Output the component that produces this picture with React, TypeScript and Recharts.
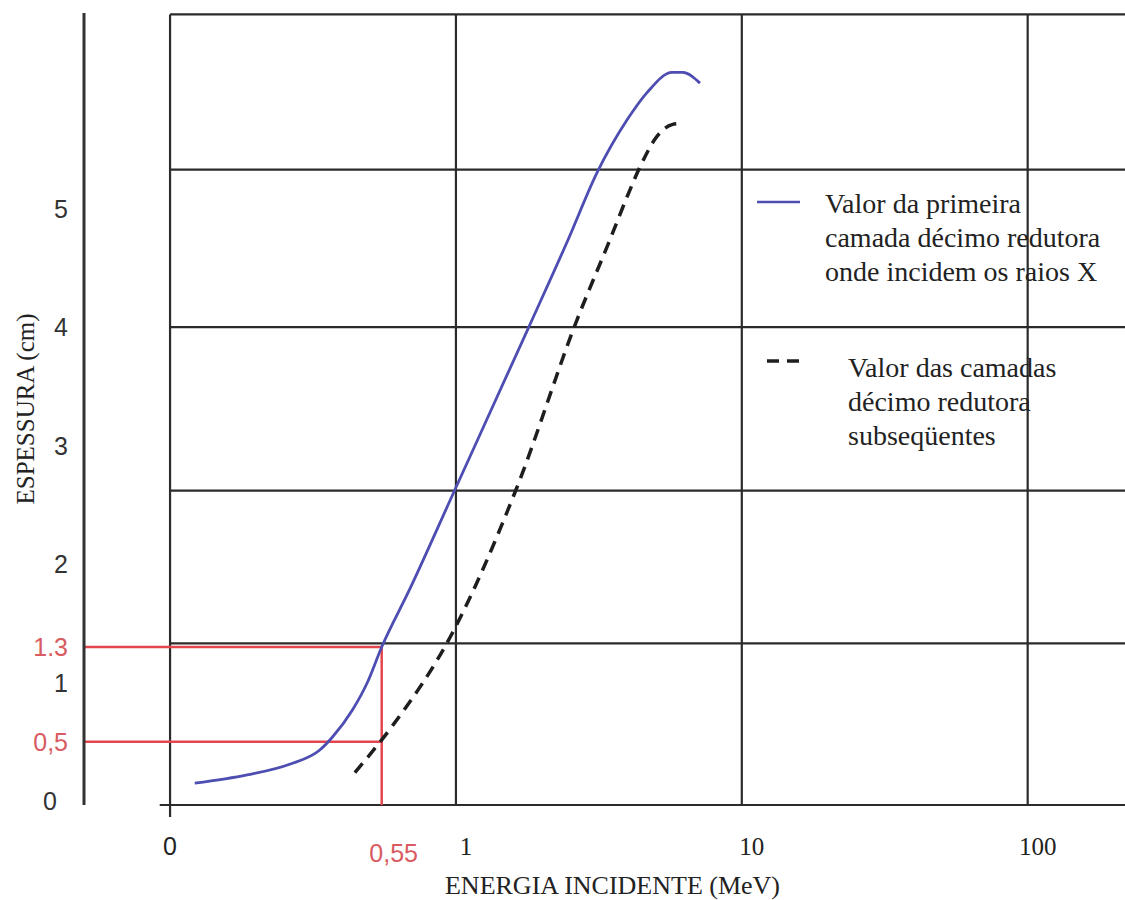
import React from 'react';
import { ComposedChart, Line, XAxis, YAxis, ReferenceLine, Legend, Label } from 'recharts';

// energia incidente (MeV) x espessura (cm)
const energiaPrimeira = [0.122, 0.186, 0.262, 0.334, 0.37, 0.435, 0.49, 0.55, 0.69, 0.98, 1.79, 2.47, 3.11, 3.97, 4.66, 5.7, 6.22, 7.14];
const espessuraPrimeira = [0.15, 0.22, 0.31, 0.43, 0.54, 0.77, 1.0, 1.3, 1.79, 2.6, 3.99, 4.74, 5.3, 5.75, 5.98, 6.15, 6.15, 6.06];

const energiaSubsequentes = [0.443, 0.602, 0.953, 1.63, 2.65, 3.46, 4.0, 4.4, 5.05, 5.7, 6.18];
const espessuraSubsequentes = [0.24, 0.64, 1.38, 2.64, 4.06, 4.74, 5.12, 5.35, 5.61, 5.71, 5.72];

const xTicks = [0.1, 0.55, 1, 10, 100];
const xTickLabels = ['0', '0,55', '1', '10', '100'];
const yTicks = [0, 0.5, 1, 1.3, 2, 3, 4, 5];
const yTickLabels = ['0', '0,5', '1', '1.3', '2', '3', '4', '5'];

// marcação em vermelho: 0,55 MeV -> 1,3 cm e 0,5 cm
const destaqueX = [0.55];
const destaqueY = [0.5, 1.3];

// grade desenhada (não coincide com as marcas do eixo y)
const gradeX = [0.1, 1, 10, 100];
const gradeY = [1.33, 2.62, 4.0, 5.33, 6.64];

const X_DOMAIN = [0.05, 219];
const Y_DOMAIN = [-0.034, 6.652];

const primeira = energiaPrimeira.map((e, i) => ({ e, t: espessuraPrimeira[i] }));
const subsequentes = energiaSubsequentes.map((e, i) => ({ e, t: espessuraSubsequentes[i] }));

const SERIF = '"Liberation Serif", "Times New Roman", serif';
const SANS = '"Liberation Sans", Arial, sans-serif';
const INK = '#222';
const GRID = '#2b2b2b';
const BLUE = '#4d4db2';
const RED = '#e4464e';
const RED_TEXT = '#d95a60';
const DASH = '12 8';

const XTick = (props: any) => {
  const { x, y, payload } = props;
  const v = payload.value;
  const i = xTicks.indexOf(v);
  const destaque = destaqueX.includes(v);
  const dx = v < 0.5 ? 0 : destaque ? 12 : 10;
  return (
    <text
      x={x + dx}
      y={y}
      dy={destaque ? 49 : 42}
      textAnchor="middle"
      fill={destaque ? RED_TEXT : INK}
      fontFamily={v >= 1 ? SERIF : SANS}
      fontSize={25}
    >
      {xTickLabels[i]}
    </text>
  );
};

const YTick = (props: any) => {
  const { x, y, payload } = props;
  const v = payload.value;
  const i = yTicks.indexOf(v);
  const destaque = destaqueY.includes(v);
  return (
    <text
      x={x - (v === 0 ? 19 : 8)}
      y={y}
      dy="0.36em"
      textAnchor="end"
      fill={destaque ? RED_TEXT : '#333'}
      fontFamily={SANS}
      fontSize={25}
    >
      {yTickLabels[i]}
    </text>
  );
};

const YTitle = (props: any) => {
  const vb = props.viewBox || { y: 13, height: 792 };
  const cy = vb.y + vb.height / 2;
  return (
    <text x={34} y={cy} transform={`rotate(-90 34 ${cy})`} textAnchor="middle" fill={INK} fontFamily={SERIF} fontSize={25}>
      ESPESSURA (cm)
    </text>
  );
};

const legendPos = [
  { top: 187, sampleLeft: 7, sampleTop: 5, sampleLen: 43, textLeft: 75 },
  { top: 351, sampleLeft: 17, sampleTop: 0, sampleLen: 36, textLeft: 98 },
];

const LegendBox = ({ payload }: any) => {
  if (!payload) return null;
  return (
    <div style={{ position: 'relative', width: 375, height: 470, fontFamily: SERIF, fontSize: 28, lineHeight: '34px', color: INK }}>
      {payload.map((item: any, i: number) => {
        const pos = legendPos[i] || legendPos[0];
        const dash = item.payload?.strokeDasharray ?? (i === 1 ? DASH : undefined);
        return (
          <div key={i} style={{ position: 'absolute', left: 0, top: pos.top, width: 375 }}>
            <svg width={50} height={20} style={{ position: 'absolute', left: pos.sampleLeft, top: pos.sampleTop }}>
              <line x1={0} x2={pos.sampleLen} y1={10} y2={10} stroke={item.color} strokeWidth={i === 1 ? 3.5 : 2.5} strokeDasharray={dash} />
            </svg>
            <div style={{ position: 'absolute', left: pos.textLeft, top: 0, whiteSpace: 'pre' }}>{item.value}</div>
          </div>
        );
      })}
    </div>
  );
};

export default function App() {
  return (
    <div style={{ position: 'absolute', left: 0, top: 0, width: 1125, height: 900, background: '#fff' }}>
      <ComposedChart width={1125} height={900} margin={{ top: 13, right: 0, left: 0, bottom: 0 }}>
        <XAxis
          type="number"
          dataKey="e"
          scale="log"
          domain={X_DOMAIN}
          allowDataOverflow
          ticks={xTicks}
          interval={0}
          tick={<XTick />}
          axisLine={false}
          tickLine={false}
          height={95}
        >
          <Label value="ENERGIA INCIDENTE (MeV)" position="insideBottom" offset={6} dx={8} fill={INK} fontFamily={SERIF} fontSize={26} />
        </XAxis>
        <YAxis
          type="number"
          domain={Y_DOMAIN}
          allowDataOverflow
          ticks={yTicks}
          interval={0}
          tick={<YTick />}
          tickLine={false}
          axisLine={{ stroke: '#333', strokeWidth: 3 }}
          width={84}
        >
          <Label content={<YTitle />} />
        </YAxis>

        {gradeY.map((v) => (
          <ReferenceLine key={'gy' + v} segment={[{ x: gradeX[0], y: v }, { x: X_DOMAIN[1], y: v }]} stroke={GRID} strokeWidth={2.2} ifOverflow="visible" />
        ))}
        <ReferenceLine segment={[{ x: 0.092, y: Y_DOMAIN[0] }, { x: X_DOMAIN[1], y: Y_DOMAIN[0] }]} stroke={GRID} strokeWidth={2.2} ifOverflow="visible" />
        {gradeX.map((v, i) => (
          <ReferenceLine
            key={'gx' + v}
            segment={[{ x: v, y: i === 0 ? -0.135 : Y_DOMAIN[0] }, { x: v, y: gradeY[gradeY.length - 1] }]}
            stroke={GRID}
            strokeWidth={2.2}
            ifOverflow="visible"
          />
        ))}

        {destaqueY.map((v) => (
          <ReferenceLine key={'ry' + v} segment={[{ x: X_DOMAIN[0], y: v }, { x: destaqueX[0], y: v }]} stroke={RED} strokeWidth={2.5} ifOverflow="visible" />
        ))}
        <ReferenceLine segment={[{ x: destaqueX[0], y: Y_DOMAIN[0] }, { x: destaqueX[0], y: destaqueY[1] }]} stroke={RED} strokeWidth={2.5} ifOverflow="visible" />

        <Line
          data={primeira}
          dataKey="t"
          name={'Valor da primeira\ncamada décimo redutora\nonde incidem os raios X'}
          type="monotone"
          stroke={BLUE}
          strokeWidth={2.8}
          dot={false}
          isAnimationActive={false}
        />
        <Line
          data={subsequentes}
          dataKey="t"
          name={'Valor das camadas\ndécimo redutora\nsubseqüentes'}
          type="monotone"
          stroke="#1e1e1e"
          strokeWidth={3.5}
          strokeDasharray={DASH}
          dot={false}
          isAnimationActive={false}
        />
        <Legend
          verticalAlign="middle"
          align="center"
          content={<LegendBox />}
          wrapperStyle={{ left: 750, top: 0, width: 375 }}
        />
      </ComposedChart>
    </div>
  );
}
